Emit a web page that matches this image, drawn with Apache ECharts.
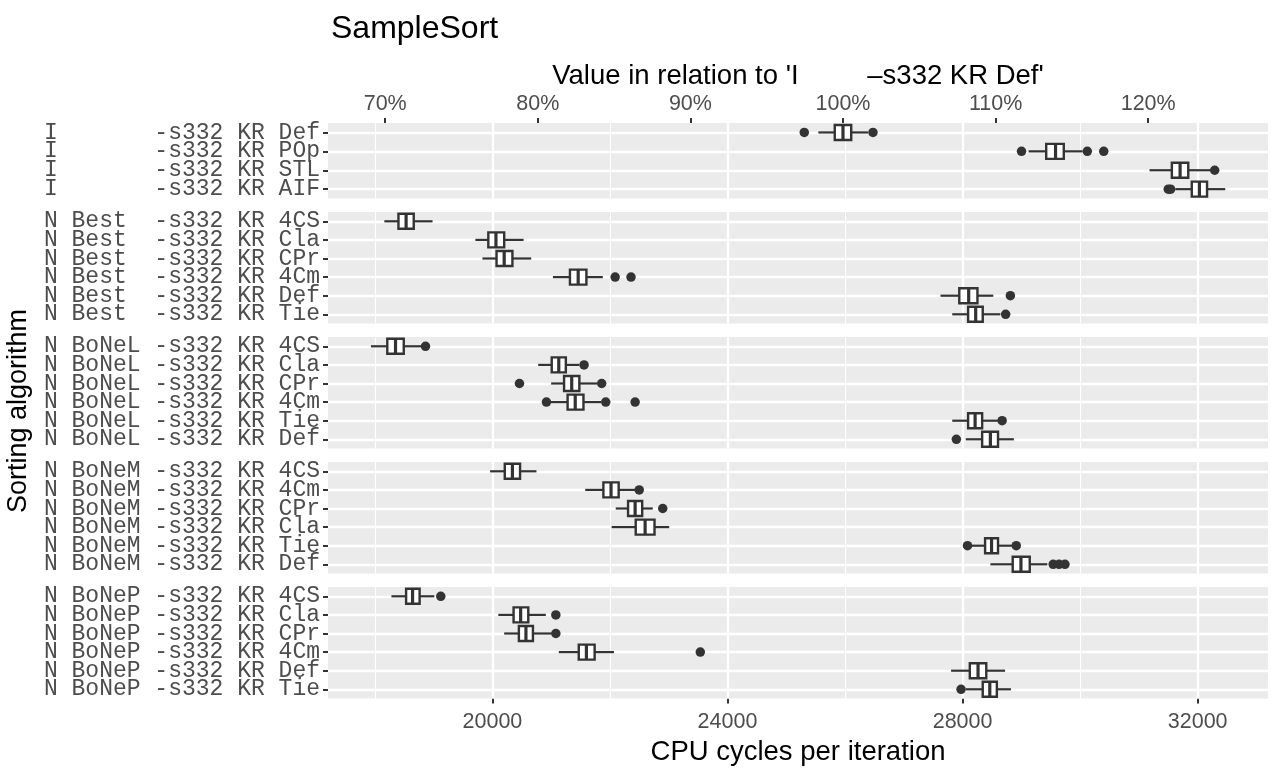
<!DOCTYPE html>
<html><head><meta charset="utf-8">
<script src="https://cdn.jsdelivr.net/npm/echarts@6/dist/echarts.min.js"></script>
<style>html,body{margin:0;padding:0;background:#fff}#c{width:1272px;height:769px}</style>
</head><body><div id="c"></div>
<script>
// ---- categories (top to bottom within each panel) ----
const catsI     = ['I       -s332 KR Def','I       -s332 KR POp','I       -s332 KR STL','I       -s332 KR AIF'];
const catsBest  = ['N Best  -s332 KR 4CS','N Best  -s332 KR Cla','N Best  -s332 KR CPr','N Best  -s332 KR 4Cm','N Best  -s332 KR Def','N Best  -s332 KR Tie'];
const catsBoNeL = ['N BoNeL -s332 KR 4CS','N BoNeL -s332 KR Cla','N BoNeL -s332 KR CPr','N BoNeL -s332 KR 4Cm','N BoNeL -s332 KR Tie','N BoNeL -s332 KR Def'];
const catsBoNeM = ['N BoNeM -s332 KR 4CS','N BoNeM -s332 KR 4Cm','N BoNeM -s332 KR CPr','N BoNeM -s332 KR Cla','N BoNeM -s332 KR Tie','N BoNeM -s332 KR Def'];
const catsBoNeP = ['N BoNeP -s332 KR 4CS','N BoNeP -s332 KR Cla','N BoNeP -s332 KR CPr','N BoNeP -s332 KR 4Cm','N BoNeP -s332 KR Def','N BoNeP -s332 KR Tie'];

// ---- box stats [lower whisker, Q1, median, Q3, upper whisker] ----
const boxesI = [[25546,25825,25965,26105,26390],[29123,29423,29582,29722,30042],[31181,31561,31701,31840,32220],[31620,31900,32030,32160,32470]];
const boxesBest = [[18161,18401,18531,18661,18981],[19710,19930,20060,20200,20530],[19830,20070,20200,20340,20660],[21029,21319,21459,21599,21878],[27624,27944,28104,28253,28523],[27824,28094,28223,28343,28643]];
const boxesBoNeL = [[17932,18211,18351,18491,18800],[20779,21009,21129,21249,21479],[20999,21219,21349,21479,21779],[20979,21279,21409,21549,21849],[27824,28094,28213,28333,28623],[28054,28333,28473,28603,28873]];
const boxesBoNeM = [[19960,20210,20340,20470,20749],[21579,21888,22018,22148,22428],[22098,22308,22428,22548,22728],[22028,22438,22598,22758,23008],[28143,28383,28493,28603,28853],[28473,28853,28993,29143,29442]];
const boxesBoNeP = [[18281,18531,18641,18761,19011],[20100,20360,20480,20610,20909],[20200,20450,20570,20689,21009],[21129,21469,21599,21739,22068],[27804,28123,28263,28403,28723],[28054,28343,28463,28583,28823]];

// ---- outliers [row index, value] ----
const outI = [[0,25306],[0,26475],[1,29003],[1,30122],[1,30402],[2,32290],[3,31500],[3,31540]];
const outBest = [[3,22088],[3,22358],[4,28813],[5,28733]];
const outBoNeL = [[0,18861],[1,21559],[2,20460],[2,21859],[3,20919],[3,21928],[3,22428],[4,28673],[5,27894]];
const outBoNeM = [[1,22498],[2,22898],[4,28084],[4,28913],[5,29542],[5,29642],[5,29742]];
const outBoNeP = [[0,19121],[1,21079],[2,21079],[3,23537],[5,27974]];

// ---- tick values ----
const cycleTicks = [20000,24000,28000,32000];
const cycleMinor = [18000,22000,26000,30000];
const pctTicks = [70,80,90,100,110,120];

const REF = boxesI[0][2];
const X_MIN = 17202, X_MAX = 33197;

const panels = [
  {cats: catsI, boxes: boxesI, out: outI},
  {cats: catsBest, boxes: boxesBest, out: outBest},
  {cats: catsBoNeL, boxes: boxesBoNeL, out: outBoNeL},
  {cats: catsBoNeM, boxes: boxesBoNeM, out: outBoNeM},
  {cats: catsBoNeP, boxes: boxesBoNeP, out: outBoNeP}
];
const tops = [123, 212, 337, 462, 587];
const rowH = 18;
const heights = panels.map(p => (p.cats.length + 0.2) * rowH);

const SANS = 'Liberation Sans, Arial, sans-serif';
const pctVals = pctTicks.map(p => REF * p / 100);
const INK = '#333333';

function renderBox(params, api) {
  const row = api.value(0);
  const lo = api.coord([api.value(1), row]);
  const q1 = api.coord([api.value(2), row]);
  const md = api.coord([api.value(3), row]);
  const q3 = api.coord([api.value(4), row]);
  const hi = api.coord([api.value(5), row]);
  const y = lo[1], h = 15;
  const ls = {stroke: INK, lineWidth: 2.2, fill: null};
  return {type: 'group', children: [
    {type: 'line', shape: {x1: lo[0], y1: y, x2: q1[0], y2: y}, style: ls},
    {type: 'line', shape: {x1: q3[0], y1: y, x2: hi[0], y2: y}, style: ls},
    {type: 'rect', shape: {x: q1[0], y: y - h / 2, width: q3[0] - q1[0], height: h}, style: {fill: '#fff', stroke: INK, lineWidth: 2.4}},
    {type: 'line', shape: {x1: md[0], y1: y - h / 2, x2: md[0], y2: y + h / 2}, style: {stroke: INK, lineWidth: 3.2}}
  ]};
}

const option = {
  animation: false,
  backgroundColor: '#ffffff',
  title: {text: 'SampleSort', left: 326, top: 8, textStyle: {fontSize: 32, fontWeight: 'normal', color: '#000', fontFamily: SANS}},
  graphic: [{type: 'text', x: 19, y: 411, rotation: Math.PI / 2,
    style: {text: 'Sorting algorithm', fontSize: 27, fill: '#000', fontFamily: SANS, align: 'center', verticalAlign: 'middle'}}],
  grid: panels.map((p, i) => ({left: 328, right: 4, top: tops[i], height: heights[i], show: true,
    backgroundColor: '#ebebeb', borderWidth: 0, borderColor: 'transparent', outerBoundsMode: 'none', containLabel: false})),
  xAxis: panels.map((p, i) => {
    const isTop = i === 0, isBot = i === panels.length - 1;
    return {
      type: 'value', gridIndex: i, min: X_MIN, max: X_MAX,
      position: isTop ? 'top' : 'bottom',
      axisLine: {show: false},
      splitLine: {show: false},
      axisTick: {show: isTop || isBot, length: 5, lineStyle: {color: INK, width: 2},
        customValues: isTop ? pctVals : cycleTicks},
      axisLabel: {show: isTop || isBot, customValues: isTop ? pctVals : cycleTicks,
        formatter: isTop ? (v => Math.round(v / REF * 100) + '%') : (v => String(Math.round(v))),
        fontSize: 21.5, color: '#4d4d4d', fontFamily: SANS, margin: isTop ? 8 : 12},
      name: isTop ? "Value in relation to 'I         \u2013s332 KR Def'" : (isBot ? 'CPU cycles per iteration' : ''),
      nameLocation: 'middle', nameGap: isTop ? 33 : 40,
      nameTextStyle: {fontSize: 27.5, color: '#000', fontFamily: SANS}
    };
  }),
  yAxis: panels.map((p, i) => ({
    type: 'category', gridIndex: i, data: p.cats, inverse: true,
    axisLine: {show: false},
    axisTick: {show: true, alignWithLabel: true, interval: 0, length: 5, lineStyle: {color: INK, width: 2}},
    axisLabel: {interval: 0, fontFamily: 'Liberation Mono, monospace', fontSize: 23, color: '#4d4d4d', margin: 8},
    splitLine: {show: false}
  })),
  series: []
};

panels.forEach((p, i) => {
  const lines = []
    .concat(cycleMinor.map(v => ({xAxis: v, lineStyle: {color: '#fff', width: 1.1, type: 'solid'}})))
    .concat(cycleTicks.map(v => ({xAxis: v, lineStyle: {color: '#fff', width: 2.3, type: 'solid'}})))
    .concat(p.cats.map(c => ({yAxis: c, lineStyle: {color: '#fff', width: 2.3, type: 'solid'}})));
  option.series.push({
    type: 'custom', xAxisIndex: i, yAxisIndex: i, z: 3, silent: true,
    data: p.boxes.map((b, j) => [j].concat(b)),
    encode: {x: [1, 2, 3, 4, 5], y: 0},
    renderItem: renderBox,
    markLine: {silent: true, symbol: 'none', z: 1, animation: false, label: {show: false}, emphasis: {disabled: true}, data: lines}
  });
  option.series.push({
    type: 'scatter', xAxisIndex: i, yAxisIndex: i, z: 4, silent: true,
    data: p.out.map(o => [o[1], o[0]]), symbolSize: 9.5,
    itemStyle: {color: INK, opacity: 1}
  });
});

const chart = echarts.init(document.getElementById('c'), null, {renderer: 'canvas'});
chart.setOption(option);
</script>
</body></html>
